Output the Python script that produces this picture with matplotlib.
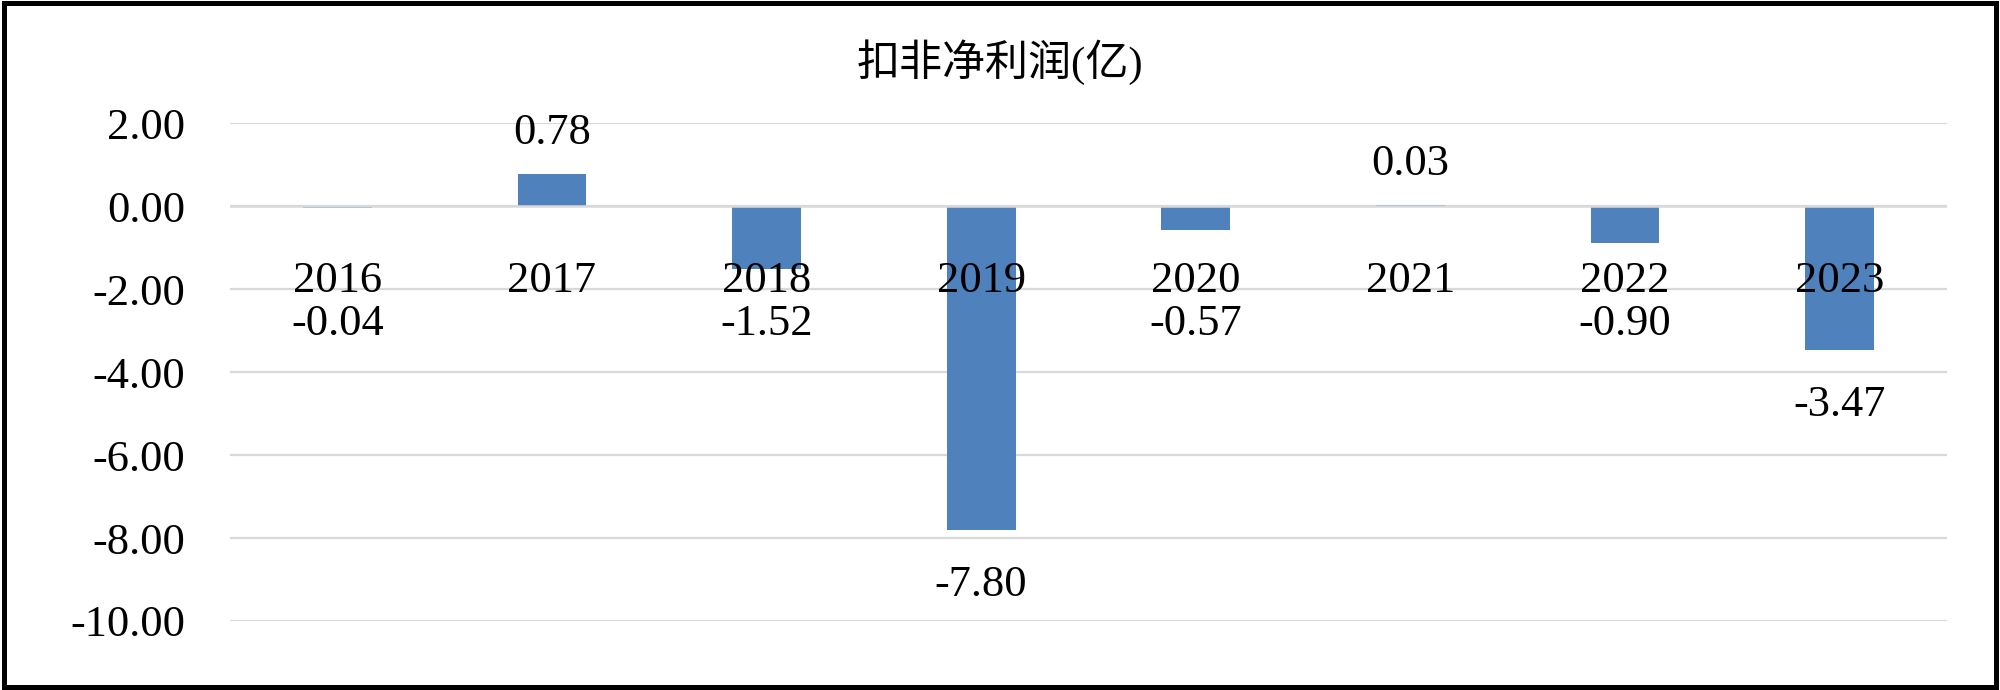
import matplotlib
matplotlib.use("Agg")
import matplotlib.pyplot as plt
from matplotlib.patches import Rectangle

plt.rcParams['font.family'] = ['Liberation Serif', 'Noto Sans CJK SC', 'DejaVu Sans']

years = ['2016', '2017', '2018', '2019', '2020', '2021', '2022', '2023']
profit = [-0.04, 0.78, -1.52, -7.80, -0.57, 0.03, -0.90, -3.47]
title = '扣非净利润(亿)'

fig = plt.figure(figsize=(20, 6.9), dpi=100)
ax = fig.add_axes([0.115, 0.1, 0.8585, 0.7217])

x = range(len(years))
ax.bar(x, profit, width=0.32, color='#4F81BD', zorder=3)

ax.set_xlim(-0.5, len(years) - 0.5)
ax.set_ylim(-10, 2)
ax.set_yticks([2, 0, -2, -4, -6, -8, -10])
ax.set_yticklabels(['%.2f' % t for t in [2, 0, -2, -4, -6, -8, -10]])
ax.tick_params(axis='y', length=0, pad=32, labelsize=32)
ax.set_xticks([])
ax.grid(axis='y', color='#D9D9D9', linewidth=1.6, zorder=0)
# horizontal axis line sits over the bars
ax.axhline(0, color='#D9D9D9', linewidth=1.8, zorder=3.5)
for s in ax.spines.values():
    s.set_visible(False)

# px -> pt at dpi 100
pt = 0.72

# category labels under the zero line
for i, yr in enumerate(years):
    ax.annotate(yr, xy=(i, 0), xytext=(0, -86 * pt), textcoords='offset points',
                ha='center', va='baseline', fontsize=32, zorder=4)

# value labels
y0 = ax.transData.transform((0, 0))[1]
for i, v in enumerate(profit):
    if v >= 0:
        off = 30
    else:
        end = ax.transData.transform((0, v))[1]
        drop = y0 - end  # px below zero line
        off = -max(drop + 66, 129)
        off = off + drop  # relative to bar end
    ax.annotate('%.2f' % v, xy=(i, v), xytext=(0, off * pt), textcoords='offset points',
                ha='center', va='baseline', fontsize=32, zorder=4)

fig.text(0.5, 1 - 62 / 690, title, ha='center', va='center', fontsize=31)

fig.patches.append(Rectangle((0.002, 0.005), 0.996, 0.99, transform=fig.transFigure,
                             fill=False, edgecolor='black', linewidth=3.6))

fig.savefig('out.png', dpi=100)
